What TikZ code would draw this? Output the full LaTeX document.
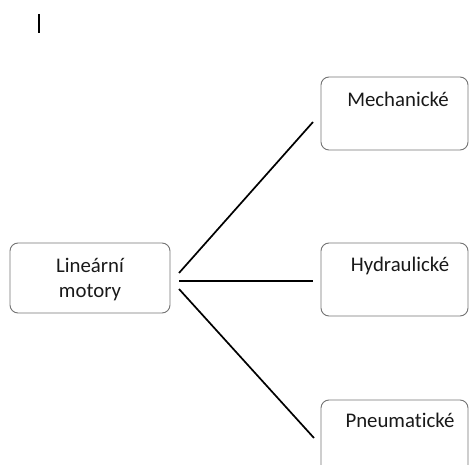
\documentclass[tikz,border=0pt]{standalone}
\usepackage{fontspec}
\setmainfont[Ligatures=NoCommon]{Carlito}
\begin{document}
\begin{tikzpicture}[x=1pt,y=-1pt,
  box/.style={draw=black!55,line width=0.9pt,rounded corners=8pt},
  lbl/.style={anchor=base,inner sep=0pt,font=\fontsize{20.8}{25}\selectfont,text=black!90},
  conn/.style={draw=black,line width=1.7pt}]
\useasboundingbox (0,0) rectangle (471,465);
\clip (0,0) rectangle (471,465);
% cursor bar
\draw[line width=2pt] (39,14) -- (39,33);
% boxes
\draw[box] (10,243) rectangle (170,313);
\draw[box] (321,77) rectangle (468,150);
\draw[box] (321,243) rectangle (468,316);
\draw[box] (321,400) rectangle (468,500);
% labels
\node[lbl] (lin1) at (90,272) {Lineární};
\node[lbl] (lin2) at (90,297) {motory};
\node[lbl] (mech) at (398,107) {Mechanické};
\node[lbl] (hyd) at (400,271) {Hydraulické};
\node[lbl] (pneu) at (400,427) {Pneumatické};
% connector ends
\coordinate (s1) at (179,273);
\coordinate (s2) at (179,281);
\coordinate (s3) at (179,289);
\coordinate (e1) at (313,122);
\coordinate (e2) at (313,281);
\coordinate (e3) at (314,438);
\draw[conn] (s1) -- (e1);
\draw[conn] (s2) -- (e2);
\draw[conn] (s3) -- (e3);
\end{tikzpicture}
\end{document}
